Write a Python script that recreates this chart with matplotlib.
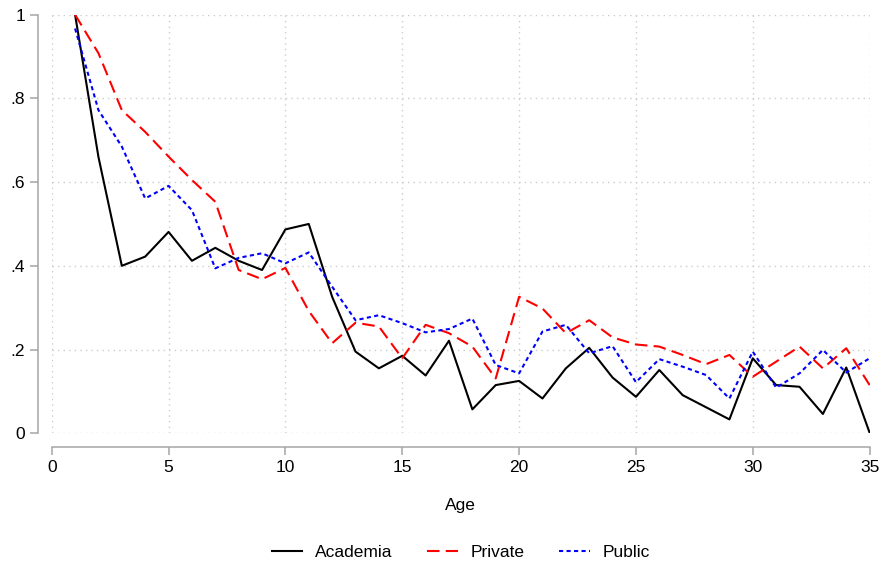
import matplotlib
matplotlib.use("Agg")
import matplotlib.pyplot as plt

plt.rcParams['font.family'] = ['Liberation Sans', 'DejaVu Sans']

age = list(range(1, 36))

academia = [1.000, 0.660, 0.400, 0.422, 0.481, 0.412, 0.443, 0.412, 0.390, 0.487,
            0.500, 0.326, 0.195, 0.155, 0.185, 0.138, 0.221, 0.057, 0.115, 0.125,
            0.083, 0.155, 0.204, 0.133, 0.087, 0.151, 0.091, 0.062, 0.033, 0.179,
            0.115, 0.111, 0.046, 0.157, 0.001]

private = [1.000, 0.908, 0.772, 0.720, 0.661, 0.605, 0.553, 0.390, 0.368, 0.395,
           0.292, 0.215, 0.264, 0.255, 0.179, 0.259, 0.239, 0.207, 0.131, 0.326,
           0.298, 0.239, 0.270, 0.229, 0.212, 0.207, 0.187, 0.165, 0.187, 0.135,
           0.171, 0.207, 0.155, 0.203, 0.115]

public = [0.967, 0.772, 0.685, 0.561, 0.591, 0.533, 0.394, 0.419, 0.430, 0.406,
          0.432, 0.350, 0.270, 0.282, 0.263, 0.241, 0.249, 0.274, 0.163, 0.143,
          0.243, 0.259, 0.191, 0.208, 0.122, 0.177, 0.159, 0.139, 0.083, 0.195,
          0.109, 0.143, 0.199, 0.145, 0.179]

xticks = [0, 5, 10, 15, 20, 25, 30, 35]
yticks = [0, 0.2, 0.4, 0.6, 0.8, 1.0]
ylabels = ["0", ".2", ".4", ".6", ".8", "1"]

fs = 12.5

fig = plt.figure(figsize=(8.81, 5.66), dpi=100)
ax = fig.add_axes([0.0587, 0.2346, 0.9284, 0.7394])

ax.plot(age, academia, color="black", lw=1.5, label="Academia", zorder=3)
ax.plot(age, private, color="#ff0000", lw=1.5, linestyle=(0, (6, 3)), label="Private", zorder=3)
ax.plot(age, public, color="#0000ff", lw=1.5, linestyle=(0, (2, 1.6)), label="Public", zorder=3)

ax.set_xlim(0, 35)
ax.set_ylim(0, 1)
ax.set_xticks(xticks)
ax.set_yticks(yticks)
ax.set_yticklabels(ylabels)

ax.grid(True, color="#cccccc", linestyle=(0, (1, 3)), lw=1.0)
ax.set_axisbelow(True)

for s in ["top", "right"]:
    ax.spines[s].set_visible(False)
for s in ["left", "bottom"]:
    ax.spines[s].set_position(("outward", 9.7))
    ax.spines[s].set_color("#a6a6a6")
    ax.spines[s].set_linewidth(1.1)
ax.tick_params(axis="both", colors="#a6a6a6", length=5.8, width=1.1,
               labelcolor="black", labelsize=fs)
ax.tick_params(axis="x", pad=4)

ax.set_xlabel("Age", fontsize=fs, labelpad=16)

fig.legend(loc="center", bbox_to_anchor=(0.523, 0.024), ncol=3, frameon=False,
           fontsize=fs, handlelength=1.76, columnspacing=2.0, handletextpad=0.73)

fig.savefig("out.png", dpi=100)
